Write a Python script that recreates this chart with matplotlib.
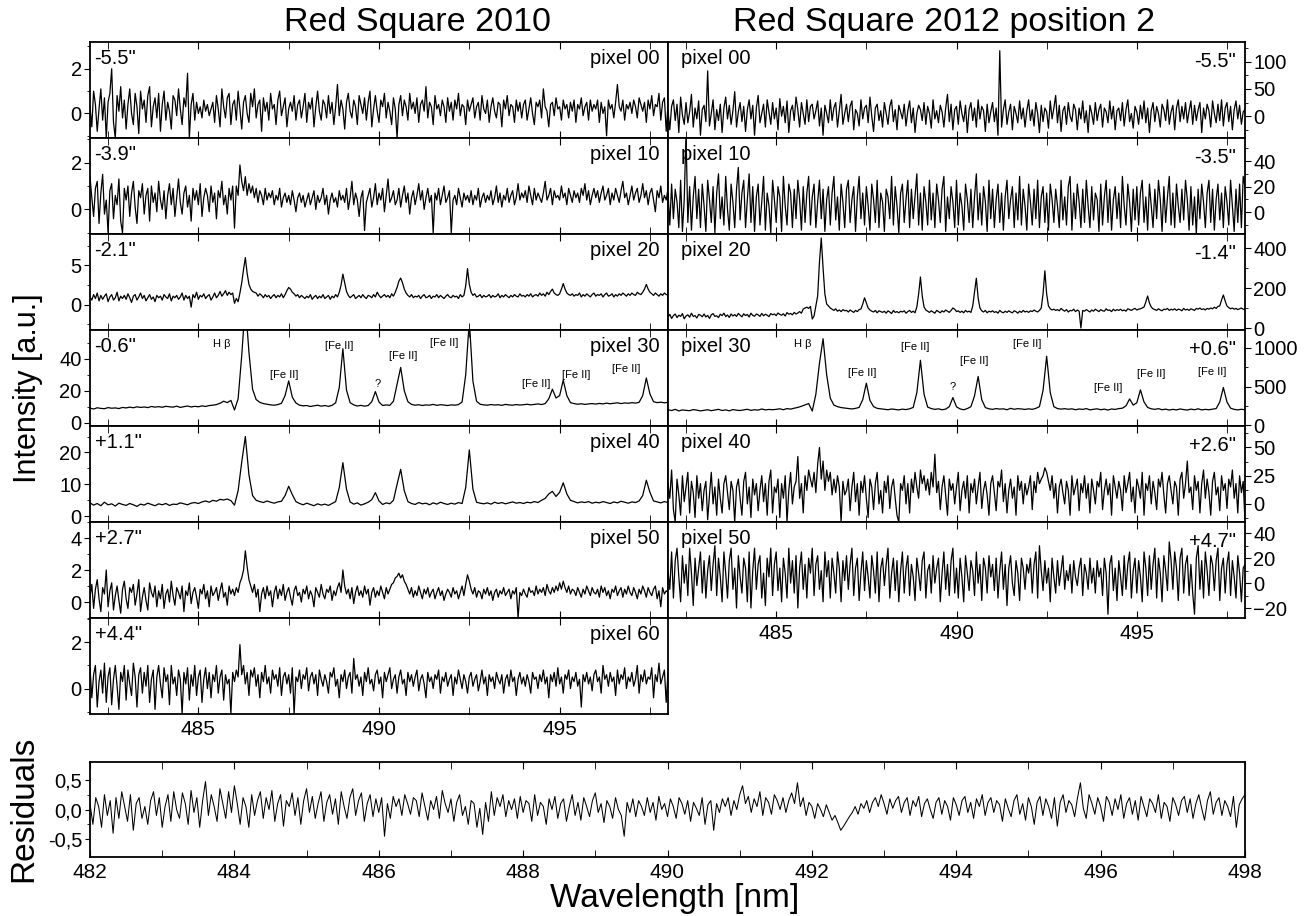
import numpy as np
import matplotlib
matplotlib.use("Agg")
import matplotlib.pyplot as plt
from matplotlib.ticker import MultipleLocator, FixedLocator

plt.rcParams['font.family'] = ['Liberation Sans', 'DejaVu Sans']

# wavelength range of all panels [nm]
wl_min, wl_max = 482.0, 498.0

# ---- left column: Red Square 2010 ----
left_names = ['pixel 00', 'pixel 10', 'pixel 20', 'pixel 30', 'pixel 40', 'pixel 50', 'pixel 60']
left_offsets = ['-5.5"', '-3.9"', '-2.1"', '-0.6"', '+1.1"', '+2.7"', '+4.4"']
left_ylims = [(-1.1, 3.2), (-1.05, 3.05), (-3.2, 9.0), (-2.0, 58.0), (-1.8, 28.3), (-1.0, 5.0), (-1.1, 3.05)]
left_yticks = [(2, 1), (2, 1), (5, 2.5), (20, 10), (10, 5), (2, 1), (2, 1)]

# spectra, evenly spaced from 482 to 498 nm (0.05 or 0.1 nm step)
L00 = """
0.3 -0.6 1.0 0.4 -0.8 0.2 1.1 -0.3 0.7 -1.1
0.5 0.9 2.0 -0.4 -1.1 0.8 0.1 1.2 -0.2 0.6
-0.7 0.4 1.1 0.0 -0.5 0.9 0.3 -0.9 1.0 0.2
0.6 -0.4 0.8 1.2 -0.6 0.3 0.7 -0.2 0.9 -0.8
0.4 1.0 -0.3 0.5 0.1 -0.7 0.8 0.6 -0.1 1.1
0.2 -0.5 0.7 0.3 1.8 -1.1 0.4 0.9 -0.3 0.5
0.0 0.3 -0.2 0.6 0.1 0.4 -0.1 0.2 0.5 -0.4
0.8 0.2 -0.6 1.1 0.3 -0.2 0.7 0.9 -0.5 0.4
0.6 -0.3 1.0 0.2 -0.7 0.5 0.8 0.0 -0.4 0.9
0.3 1.1 -0.2 0.4 0.6 -0.8 0.7 0.1 0.5 -0.3
0.9 0.2 0.4 -0.5 0.6 1.0 -0.1 0.3 0.7 -0.6
0.2 0.5 0.1 0.8 -0.3 0.4 0.6 -0.2 0.3 0.9
-0.4 0.5 0.2 0.7 -0.6 0.3 1.0 0.1 -0.3 0.6
0.4 -0.2 0.8 0.0 0.5 -0.5 0.3 1.3 -0.1 0.6
0.2 -0.7 0.5 0.9 0.1 -0.2 0.6 0.3 -0.5 0.8
0.4 0.0 0.7 -0.3 0.5 1.0 -0.6 0.2 0.8 0.1
-0.4 0.6 0.3 0.9 -0.2 0.5 0.1 -0.5 0.7 0.2
-1.1 0.4 0.8 -0.1 0.6 0.3 -0.3 0.9 0.2 0.5
0.0 0.7 -0.4 0.4 0.6 0.1 1.2 -0.2 0.5 0.3
-0.5 0.8 0.2 0.4 -0.1 0.6 0.3 -0.4 0.7 0.1
0.5 -0.3 0.6 0.2 0.9 -0.1 0.4 0.3 -0.5 0.6
0.1 0.4 0.7 -0.2 0.3 0.5 -0.3 0.8 0.2 0.0
0.6 -0.4 0.3 0.7 0.1 -0.2 0.5 0.4 -0.6 0.6
0.2 0.8 -0.1 0.4 0.3 -0.4 0.6 0.1 0.5 -0.2
0.4 0.6 -0.3 0.2 0.7 0.0 -0.5 0.5 0.3 0.6
-0.2 1.1 0.3 0.1 -0.6 0.4 0.5 -0.1 0.7 0.2
0.3 -0.3 0.6 0.2 0.4 -0.2 0.5 0.1 0.6 -0.4
0.4 0.2 0.7 -0.1 0.3 0.5 -0.3 0.6 0.1 0.4
0.2 0.6 -0.4 0.5 0.0 0.3 -1.0 0.6 0.2 0.4
-0.2 0.5 1.3 0.3 0.1 0.6 -0.3 0.4 0.2 0.5
0.0 0.6 0.3 -0.2 0.7 0.4 0.1 0.5 -0.4 0.6
0.2 0.8 -0.1 0.4 0.3 0.9 -0.3 0.5 0.7 -0.8
0.4
"""
L10 = """
1.4 0.5 -0.3 0.9 1.2 -0.6 0.7 1.5 -0.2 0.4
-1.0 0.8 1.1 -0.4 0.6 0.2 1.3 -0.5 -1.0 0.9
0.4 1.0 -0.3 0.7 1.2 0.1 -0.6 0.8 0.5 1.1
-0.2 0.6 0.9 -0.5 1.0 0.3 0.7 -0.1 1.2 0.4
0.0 0.8 -0.4 0.6 1.1 0.2 0.9 -0.3 0.5 1.3
0.3 -0.2 0.7 1.0 0.1 0.6 -0.5 0.9 0.4 0.8
0.2 1.1 -0.3 0.5 0.9 0.6 -0.1 1.0 0.3 0.7
-0.4 0.8 0.5 1.2 0.2 0.6 -0.2 0.9 0.4 1.0
-0.8 1.0 0.6 1.9 1.2 0.8 1.4 0.6 1.1 0.7
1.0 0.5 0.9 0.3 0.8 0.6 0.2 0.9 0.4 0.7
0.5 0.8 0.2 0.6 0.4 0.9 0.1 0.5 0.7 0.3
0.6 0.2 0.8 0.4 -0.1 0.5 0.7 0.3 0.6 0.1
0.4 0.7 0.2 0.5 0.8 0.0 0.6 0.3 0.5 0.9
0.2 0.6 -0.2 0.4 0.7 0.3 0.5 0.1 0.8 0.4
0.6 0.3 0.9 0.0 0.5 1.2 0.2 0.7 0.4 -0.3
0.5 0.8 -0.9 0.3 0.6 0.9 0.1 0.5 1.1 0.2
0.7 0.4 0.9 -0.1 0.6 1.3 0.3 0.5 0.8 0.2
0.4 0.9 0.1 0.6 1.0 0.3 0.7 -0.2 0.5 0.8
0.2 0.6 1.1 0.4 0.8 0.0 0.5 0.9 0.3 0.6
-1.0 0.7 0.4 0.9 0.2 0.6 1.0 0.3 0.5 0.8
-1.0 0.4 0.6 0.2 0.9 0.5 0.1 0.7 0.4 0.6
0.3 0.8 0.2 0.6 0.4 0.9 0.1 0.5 0.7 0.3
0.6 0.4 0.8 0.2 0.5 1.0 0.3 0.7 0.1 0.6
0.4 0.9 0.3 0.6 0.8 0.2 0.5 1.1 0.4 0.7
0.5 0.8 0.3 1.0 0.6 0.2 0.9 0.4 0.7 0.5
0.3 0.7 1.2 0.4 0.6 0.9 0.2 0.8 0.5 0.6
0.4 1.0 0.5 0.7 0.2 0.9 0.6 0.3 0.8 0.5
0.7 0.3 0.9 0.6 1.1 0.4 0.8 0.2 0.6 0.9
0.5 0.8 0.3 0.7 1.0 0.4 0.6 0.9 0.2 0.7
0.4 0.9 0.6 0.3 0.8 1.2 0.5 0.7 0.2 0.6
1.0 0.4 0.7 0.9 0.3 0.6 1.1 0.5 0.8 0.2
0.7 0.9 0.4 -0.1 0.8 0.5 1.0 0.3 0.6 0.4
0.9
"""
L20 = """
1.0 0.6 1.3 0.8 1.5 0.5 1.2 0.7 1.1 1.4
0.4 1.0 1.3 0.6 0.9 1.6 0.5 1.1 0.8 1.2
0.7 1.4 0.9 0.3 1.1 1.3 0.6 1.0 1.5 0.8
1.2 0.5 0.9 1.3 0.7 1.0 0.4 1.2 0.9 1.1
0.6 1.3 1.0 0.8 1.4 0.5 1.1 0.9 1.2 0.7
1.0 1.5 0.6 1.2 0.8 1.1 -0.3 1.3 0.9 1.6
0.7 1.2 1.0 1.4 0.8 1.1 1.3 0.6 1.0 1.5
0.9 1.2 1.7 1.1 1.4 1.8 1.2 1.6 1.3 1.5
0.2 0.8 0.4 1.5 2.8 4.5 6.0 4.0 2.6 2.0
1.7 1.6 1.5 1.1 1.4 1.2 0.9 1.3 1.0 1.2
0.8 1.1 1.3 0.9 1.2 1.0 1.4 0.9 1.3 1.8
2.2 2.0 1.6 1.4 1.1 1.3 0.9 1.2 1.0 0.8
1.1 0.9 1.3 0.7 1.0 1.2 0.8 1.1 0.9 1.3
0.8 1.0 1.2 0.7 1.1 0.9 1.3 1.0 1.6 2.5
3.9 2.8 1.7 1.2 0.9 1.1 1.3 0.8 1.0 1.2
0.9 1.3 1.0 0.8 1.2 1.1 0.9 1.3 1.0 1.6
1.2 0.9 1.1 1.3 1.0 1.2 0.9 1.4 1.1 1.6
2.2 3.0 3.4 2.8 2.0 1.5 1.2 1.0 1.3 0.9
1.1 1.0 1.2 0.8 1.1 1.3 0.9 1.0 1.2 0.8
1.1 1.0 1.3 0.9 1.2 1.0 0.8 1.1 1.3 1.0
0.9 1.2 1.0 1.1 0.8 1.3 1.0 1.2 2.4 4.6
2.6 1.6 1.2 1.4 1.0 1.1 1.3 0.9 1.2 1.0
1.1 1.3 0.9 1.2 1.0 1.1 1.4 0.9 1.2 1.0
1.3 1.1 0.9 1.2 1.0 1.3 1.1 1.0 1.4 1.1
1.2 1.0 1.3 1.1 1.4 1.0 1.2 1.3 1.1 1.5
1.2 1.4 1.1 1.6 1.3 1.7 2.0 1.5 1.3 1.2
1.4 2.0 2.7 2.0 1.5 1.3 1.2 1.4 1.1 1.3
1.2 1.5 1.0 1.3 1.1 1.4 1.2 1.0 1.3 1.5
1.1 1.3 1.2 1.4 1.0 1.3 1.5 1.1 1.2 1.4
1.0 1.3 1.1 1.4 1.2 1.5 1.3 1.1 1.4 1.2
1.5 1.3 1.2 1.6 1.4 1.3 1.6 2.0 2.6 2.0
1.6 1.4 1.2 1.5 1.3 1.1 1.4 1.2 1.5 1.3
1.3
"""
L30 = """
9.2 8.6 9.4 9.0 8.8 9.5 9.1 9.3 8.9 9.6
9.3 9.8 9.4 10.0 9.6 9.9 9.5 10.2 9.8 10.1
9.7 10.3 10.0 9.8 10.4 9.6 10.1 10.5 9.9 10.3
10.0 10.6 10.2 10.8 11.0 11.4 12.2 13.5 12.6 14.0
8.0 15.0 42.0 75.0 44.0 21.0 14.5 12.8 12.0 11.6
11.2 11.0 11.4 12.2 17.0 26.2 16.0 12.4 11.0 10.6
10.8 10.2 10.6 11.0 10.4 10.8 10.3 10.9 12.5 22.0
46.3 20.5 12.6 11.2 10.5 10.9 10.4 10.8 13.2 19.5
13.0 10.8 11.2 10.9 13.5 24.0 34.6 20.0 13.2 11.5
11.0 11.3 10.8 11.2 11.0 11.5 10.9 11.3 11.1 10.8
11.2 11.0 11.4 13.0 30.0 64.0 26.0 13.5 11.6 11.2
11.0 11.4 11.1 11.3 10.9 11.5 11.2 11.0 11.4 11.1
11.3 11.6 11.2 11.5 11.8 11.4 12.0 15.0 21.0 15.5
17.0 26.6 17.0 12.6 12.0 11.6 11.9 11.5 11.8 12.0
11.7 12.1 11.8 12.3 11.9 12.2 12.5 12.0 12.4 12.2
12.6 12.3 12.8 17.0 28.0 18.0 13.2 12.6 12.9 12.5
12.8
"""
L40 = """
4.2 3.5 4.0 3.3 4.4 3.6 3.9 3.2 4.1 3.7
3.4 4.0 3.6 3.1 3.8 3.5 4.1 3.7 3.3 3.9
3.6 4.0 3.4 3.8 3.7 4.2 3.9 3.6 4.1 4.3
4.0 4.5 4.8 4.4 5.0 4.7 5.3 5.1 5.4 4.9
3.5 8.0 17.0 25.0 13.0 6.5 5.0 4.6 4.3 4.8
4.4 4.1 4.5 4.7 6.5 9.4 6.8 4.6 4.0 3.6
4.1 3.7 3.3 3.9 3.5 3.8 3.4 4.0 4.6 9.0
16.8 8.5 4.5 3.8 4.2 3.5 3.9 4.4 5.2 7.4
4.8 3.7 4.2 3.9 5.0 10.0 14.7 8.0 4.6 4.0
3.7 4.3 3.9 4.1 3.6 4.2 3.8 4.4 4.0 3.7
4.1 3.8 4.3 4.0 9.0 20.8 8.5 4.4 4.1 3.9
4.2 3.8 4.4 4.0 4.3 3.9 4.2 4.5 4.1 4.3
4.0 4.4 4.2 4.6 4.3 5.0 5.6 7.0 7.8 6.2
7.5 10.5 7.0 5.0 4.6 4.2 4.5 4.3 4.6 4.1
4.4 4.2 4.6 4.3 4.0 4.5 4.2 4.7 4.4 4.1
4.5 4.3 4.8 6.5 11.3 7.5 4.8 4.5 4.2 4.6
4.3
"""
L50 = """
0.3 1.1 -0.4 0.8 1.4 0.2 -0.6 0.9 0.5 2.0
-0.3 0.7 1.2 -0.5 0.4 1.0 0.1 -0.7 0.8 1.3
0.2 -0.4 0.9 0.6 1.1 -0.2 0.5 1.4 -0.6 0.3
0.9 0.1 -0.5 1.2 0.6 0.3 1.0 -0.3 0.7 0.2
1.1 -0.4 0.5 0.8 0.0 1.3 0.4 -0.2 0.9 0.6
0.2 1.0 -0.6 0.7 0.4 1.2 -0.1 0.6 0.9 0.3
-0.4 0.8 0.5 1.1 0.2 0.7 -0.3 1.0 0.4 0.6
0.9 0.1 0.7 1.2 0.3 0.6 -0.2 1.0 0.5 0.8
0.4 0.9 0.6 1.2 1.5 2.0 3.2 2.2 1.4 1.0
0.6 1.1 0.3 0.8 -0.6 0.5 0.9 0.2 1.0 0.4
0.7 -0.3 0.6 1.0 0.2 0.8 0.4 1.1 0.1 0.6
0.9 0.3 -0.2 0.7 1.0 0.4 0.6 0.0 0.8 0.5
1.0 0.2 0.7 0.4 -0.3 0.9 0.6 0.3 1.1 0.5
0.2 0.8 0.6 1.0 0.1 0.7 0.4 0.9 1.2 0.6
2.0 1.0 0.5 0.8 0.2 0.9 -0.1 0.6 1.0 0.4
0.7 0.3 1.0 0.5 0.8 -0.2 0.6 0.9 0.3 0.7
0.4 1.0 0.6 0.2 0.9 0.5 0.8 1.1 1.2 1.5
1.6 1.8 1.5 1.7 1.3 1.1 0.8 0.5 0.9 0.3
0.7 0.4 1.0 0.6 0.2 0.8 0.5 0.9 0.3 0.6
0.8 0.2 0.6 0.9 0.4 0.7 0.1 0.5 0.8 0.6
0.3 0.9 0.5 0.7 0.2 0.6 1.0 0.4 1.1 1.7
1.3 0.8 0.5 0.9 0.3 0.7 0.6 0.2 0.8 0.5
0.9 0.4 0.7 0.1 0.6 0.8 0.3 0.7 0.5 0.9
0.4 0.6 0.8 0.2 0.7 0.5 0.9 -1.0 0.6 0.4
0.8 0.5 0.3 0.9 0.6 0.7 0.4 1.0 0.5 0.8
0.6 0.9 0.4 1.1 0.7 0.5 0.9 0.6 1.0 0.7
1.2 0.8 1.3 0.9 0.6 1.0 0.5 0.8 0.7 0.4
0.9 0.6 0.3 0.8 0.5 1.0 0.7 0.4 0.9 0.6
0.5 0.8 0.3 1.0 0.6 0.9 0.4 0.7 0.2 0.8
0.6 1.0 0.4 0.7 0.9 0.3 0.8 0.5 1.0 0.6
0.4 0.9 0.6 0.2 0.8 0.5 1.0 0.7 0.3 0.9
0.6 0.4 0.8 1.0 0.2 0.7 -0.3 0.9 0.5 0.7
0.6
"""
L60 = """
0.9 -0.4 0.6 1.0 -0.8 0.3 0.8 -0.2 1.1 -0.6
0.5 0.9 -0.7 0.4 1.0 0.1 -0.9 0.7 0.3 1.0
-0.5 0.8 0.2 -0.3 1.1 0.5 -0.8 0.6 0.9 -0.2
0.7 0.1 1.0 -0.6 0.4 0.8 -0.9 0.5 1.0 0.2
-0.4 0.9 0.3 0.6 -0.7 1.0 0.2 0.5 -0.3 0.8
0.4 -1.1 0.7 0.2 0.9 -0.5 0.6 0.1 1.0 -0.3
0.5 0.8 -0.6 0.4 0.9 0.0 0.7 -0.4 0.6 0.3
1.0 -0.2 0.5 0.8 -0.5 0.6 0.2 0.4 -1.1 0.7
0.3 0.8 0.5 1.9 0.6 1.0 0.2 0.7 -0.3 0.8
0.5 0.9 0.1 0.6 -0.4 0.7 0.3 1.0 0.2 0.5
-0.2 0.8 0.4 0.6 0.1 0.9 -0.3 0.5 0.7 0.2
0.6 -0.2 0.9 -1.1 0.5 0.3 0.8 0.0 0.6 0.4
0.9 -0.1 0.5 0.7 0.2 0.6 -0.3 0.8 0.4 0.1
0.6 0.3 -0.2 0.7 0.5 0.9 0.1 0.4 -0.4 0.6
0.3 0.8 0.0 0.5 0.7 -0.2 1.3 0.4 0.6 0.1
0.5 -0.3 0.7 0.3 0.9 0.2 0.4 -0.1 0.6 0.8
0.2 0.5 -0.4 0.7 0.3 0.6 0.9 0.0 0.4 0.6
-0.2 0.5 0.8 0.2 0.4 -0.3 0.7 0.3 0.6 0.1
0.5 0.8 -0.1 0.4 0.6 0.2 -0.4 0.7 0.3 0.5
0.0 0.6 0.4 0.8 -0.2 0.5 0.3 0.7 0.1 0.4
0.6 -0.3 0.5 0.2 0.8 0.4 0.0 0.6 0.3 -0.2
0.5 0.7 0.1 0.4 0.6 -0.1 0.3 0.8 0.2 0.5
-0.3 0.6 0.3 0.5 0.0 0.7 0.4 0.2 0.6 -0.2
0.4 0.6 0.1 0.8 0.3 0.5 -0.3 0.4 0.7 0.2
0.5 0.1 0.6 0.3 -0.2 0.7 0.4 0.5 0.0 0.6
0.3 0.8 0.2 0.5 -0.4 0.6 0.3 0.7 0.1 0.9
0.2 0.5 -0.2 0.6 0.4 0.8 0.0 0.5 0.3 0.7
0.1 0.4 -0.8 0.6 0.3 0.7 0.2 0.5 -0.1 0.6
0.8 0.3 0.5 -0.2 1.0 0.4 0.6 0.1 0.7 0.3
0.5 -0.3 0.8 0.2 0.6 0.4 0.9 0.0 0.5 0.3
0.7 0.1 0.4 1.0 -0.2 0.6 0.3 0.8 0.2 0.5
0.4 0.9 -0.4 0.6 0.3 1.1 0.2 0.5 0.8 -0.6
0.7
"""

# ---- right column: Red Square 2012 position 2 ----
right_names = ['pixel 00', 'pixel 10', 'pixel 20', 'pixel 30', 'pixel 40', 'pixel 50']
right_offsets = ['-5.5"', '-3.5"', '-1.4"', '+0.6"', '+2.6"', '+4.7"']
right_ylims = [(-40, 136), (-17, 58), (-10, 470), (-10, 1230), (-16, 69), (-28, 49)]
right_yticks = [(50, 25), (20, 10), (200, 100), (500, 250), (25, 12.5), (20, 10)]

R00 = """
10 -25 18 30 -8 22 -30 35 2 -15
25 -12 8 40 -20 15 -5 28 -35 12
20 -10 83 -18 5 30 -25 12 -8 22
-30 15 35 -5 20 -15 10 45 -20 8
25 -10 18 -28 12 30 -5 20 -35 15
38 -12 5 22 -20 30 8 -15 25 -5
15 -25 32 0 18 -12 28 -30 10 20
-8 35 12 -20 25 5 -15 30 -10 18
22 -5 10 28 -18 15 -35 20 5 -12
30 -8 15 25 -20 10 40 -15 5 22
-10 18 28 -25 12 5 -18 30 -5 15
20 -12 35 0 -28 15 22 -8 10 -20
25 5 -15 18 30 -10 12 -25 20 8
-5 22 -18 10 28 -12 15 -30 5 20
12 -8 25 -15 18 5 -22 30 -5 10
-12 20 8 -20 15 40 -10 22 -25 12
18 -15 28 5 -10 20 -30 12 25 -8
15 -20 30 -5 18 10 -28 22 -12 8
25 -10 15 -35 120 -20 12 30 -15 8
22 -25 18 5 -12 28 -5 15 -20 10
30 -8 12 -18 25 5 -30 20 -10 15
8 -22 28 -5 15 38 -12 20 -28 10
18 -15 25 0 -10 22 12 -25 15 -5
28 -12 10 -30 20 5 -15 25 -8 12
22 -20 15 8 -12 28 -5 18 -25 10
15 -8 25 -18 12 30 -10 5 -22 18
8 -15 20 -5 28 -12 15 -30 10 25
-10 18 5 -20 22 12 -8 30 -15 8
20 -25 15 30 -10 18 -5 25 -12 10
28 -15 20 -8 12 25 -30 15 -5 22
10 -20 28 5 -12 22 -8 30 -18 15
25 -10 18 -25 12 28 -5 20 -15 8
12
"""
R10 = """
15 -10 22 -5 18 8 -12 25 -15 10
62 -8 20 -14 12 28 -5 18 -12 22
5 -15 25 10 -8 20 -16 15 30 -5
12 -10 28 2 -14 22 8 -12 18 35
-6 15 25 -12 10 30 -8 20 -15 12
22 -10 8 28 -14 15 5 -16 25 10
-8 20 12 -15 28 5 -10 22 15 -12
18 -5 25 10 -14 20 -8 15 28 -10
12 22 -12 8 25 -5 18 -15 10 20
-10 15 28 -6 12 -14 22 8 -12 18
25 -8 10 20 -15 12 28 -5 15 -10
20 5 -14 22 10 -8 25 -12 15 8
-15 18 12 -5 28 -10 20 5 -16 15
22 -8 10 25 -12 18 -5 12 30 -10
15 -14 20 8 -10 25 -6 15 -12 22
10 -8 18 28 -15 12 -5 20 8 -12
25 -10 15 5 -14 22 10 -8 18 -12
12 30 -6 15 -10 20 8 -15 25 -5
18 -12 10 22 -8 15 -14 12 25 -5
10 20 -12 15 -6 28 -10 18 5 -14
22 8 -10 18 -5 25 -12 12 20 -8
15 -14 22 10 -8 18 5 -12 25 -6
12 -10 20 28 -14 15 -5 22 8 -12
18 -8 25 5 -12 20 -6 15 10 -15
22 -10 12 25 -8 18 -14 10 20 -5
15 -12 28 5 -10 22 8 -15 18 -6
20 -10 15 25 -8 12 -14 22 5 -12
18 -5 25 10 -15 20 -8 12 28 -10
15 -12 22 5 -8 18 -6 25 10 -14
20 -10 12 -17 18 -5 22 8 -12 15
25 -8 18 -14 10 22 -6 15 -12 20
8 -10 25 5 -15 18 -8 22 -12 28
20
"""
R20 = """
55 68 48 62 70 52 64 58 72 46
60 66 54 74 58 62 50 68 64 56
70 55 63 48 66 72 58 61 52 69
62 74 57 65 53 70 60 67 58 73
64 56 71 62 68 55 74 63 59 70
66 58 73 61 69 64 57 72 66 70
62 75 68 64 71 60 77 69 73 66
78 70 75 82 74 95 100 104 98 108
45 60 110 160 330 450 300 170 120 110
100 94 88 96 84 90 82 92 86 88
80 90 84 78 88 82 92 95 120 151
125 100 90 84 80 88 76 86 82 78
84 74 86 80 72 88 78 82 76 84
80 86 74 82 88 78 84 76 105 170
255 160 105 90 84 78 86 80 74 88
82 76 86 80 90 84 78 88 100 94
82 86 78 84 76 88 80 84 78 110
180 249 150 100 86 80 88 76 84 80
86 78 82 74 88 80 76 84 78 86
80 76 86 82 74 84 78 88 80 84
78 86 82 90 84 80 88 100 170 286
170 110 96 90 94 88 92 86 98 90
84 92 80 88 86 94 82 90 84 0
88 84 92 86 80 90 84 94 88 82
92 86 84 96 88 90 82 94 86 92
88 94 86 90 84 96 92 88 94 98
90 94 96 100 105 130 160 125 105 96
92 88 96 90 86 94 92 98 88 94
90 96 88 94 92 86 98 90 94 88
96 92 88 98 94 100 92 96 90 98
94 100 96 104 98 108 110 140 165 135
110 102 96 100 94 98 92 96 100 94
92
"""
R30 = """
200 190 205 185 198 192 188 202 195 185
192 200 188 196 205 190 198 186 202 194
190 198 206 192 200 195 210 198 204 200
205 212 200 215 208 220 230 245 262 280
183 400 800 1117 650 350 260 240 228 222
215 210 218 230 330 543 320 240 218 212
206 200 210 204 198 208 202 212 230 420
839 400 235 215 205 212 200 208 240 357
238 210 200 215 240 380 630 330 228 212
205 215 208 212 200 218 206 214 210 204
212 205 218 240 450 891 420 240 215 208
214 206 212 200 210 204 215 198 206 212
200 208 196 210 204 215 220 250 339 260
290 457 300 230 212 205 214 200 208 196
205 198 210 202 196 208 200 212 198 205
200 208 215 300 487 300 220 205 198 206
200
"""
R40 = """
18 5 30 -5 -16 22 8 -10 25 2
15 28 -8 20 10 -12 25 5 18 -6
12 20 -14 8 28 0 15 -10 22 5
-8 18 25 10 -5 20 12 -16 15 22
5 -10 20 28 0 15 -12 22 8 18
-6 12 25 2 18 -10 20 30 -8 15
10 22 -12 18 5 25 -16 12 28 0
15 20 42 5 18 -8 25 12 30 22
15 28 10 35 50 22 38 12 30 20
28 8 22 10 25 15 -16 20 8 12
22 -6 15 28 2 18 -10 20 10 25
5 -12 22 15 -5 18 28 0 12 -8
20 10 25 -4 15 22 5 -10 -16 18
12 25 0 18 -8 22 10 28 15 5
30 18 25 12 22 8 28 15 44 10
20 -5 15 25 8 -10 22 12 18 0
15 28 -6 12 20 5 25 -8 18 10
22 0 15 28 -4 12 20 8 -10 18
25 10 -6 20 15 30 2 18 -8 12
22 5 15 -10 25 12 20 0 18 8
15 25 -5 20 10 28 18 22 25 32
28 20 12 25 5 18 -8 15 22 10
0 20 12 -10 25 8 15 22 -6 18
10 25 5 18 -8 22 12 0 20 15
28 -5 12 22 8 18 -10 25 15 5
20 12 -6 25 10 18 28 2 15 -8
22 15 5 28 -10 18 12 25 0 20
10 -5 22 15 28 8 -8 18 25 12
0 20 15 -10 22 28 5 18 38 10
15 -5 25 12 20 -8 18 30 5 22
10 -10 20 28 8 15 -6 25 12 18
-4 22 15 30 5 18 -8 25 10 20
-16
"""
R50 = """
10 -5 25 -12 18 28 5 -15 22 0
15 -10 28 8 -18 20 -2 12 25 -8
18 -12 10 22 -6 15 30 -10 20 5
-15 25 8 -12 18 28 -5 12 -20 22
5 -8 20 12 -15 25 -20 10 28 -5
15 22 -12 8 -18 20 5 28 -10 15
25 -6 12 -15 20 8 -12 28 0 18
-8 22 -20 12 25 -5 15 -12 20 8
28 -10 15 22 -5 10 -15 25 5 18
-12 20 8 -8 25 12 -15 18 2 22
-5 15 28 -10 12 20 -14 8 25 -6
18 5 -12 22 10 -8 25 -15 12 20
-2 15 28 -12 8 20 -6 18 -15 10
25 -8 12 22 -10 15 5 -14 20 8
-6 18 25 -12 10 15 -8 22 0 12
20 -15 8 25 -5 15 -10 18 28 -8
12 -12 20 5 -15 22 8 -6 18 10
-10 25 0 15 -14 20 12 -8 22 5
15 -6 20 -12 10 25 -5 15 -18 12
22 0 -10 18 8 -14 20 12 -5 15
8 20 -8 15 25 -12 30 10 -6 18
0 12 -15 20 5 -8 18 -2 10 22
-5 10 2 15 -8 18 5 -2 12 20
-10 15 8 -5 20 0 12 -8 18 5
12 -10 20 8 -25 15 22 -6 12 -14
18 5 -10 22 -5 15 25 -12 10 20
-8 18 5 -15 25 12 -10 22 -5 15
28 -12 20 8 -15 22 10 -6 33 18
-5 25 12 -14 20 28 -8 15 22 -10
15 -8 -25 20 30 -5 18 -12 25 10
-10 22 15 -6 18 28 -14 12 20 -8
15 25 -10 18 5 -12 22 8 -15 12
15
"""

# ---- residuals of the fit (0.04 nm step) ----
RES = """
0.10 -0.25 0.20 0.05 -0.30 0.25 -0.10 0.15 -0.40 0.20
-0.15 0.30 0.05 -0.20 0.25 -0.35 0.10 0.20 -0.15 0.05
-0.25 0.15 0.30 -0.10 0.20 -0.30 0.05 0.25 -0.20 0.30
0.00 -0.15 0.28 0.10 -0.25 0.32 -0.05 0.20 -0.30 0.15
0.47 -0.10 0.25 0.05 -0.20 0.35 0.10 -0.15 0.30 -0.05
0.40 0.10 -0.25 0.20 0.05 -0.30 0.25 -0.10 0.15 0.30
-0.15 0.20 0.00 0.32 -0.20 0.10 0.25 -0.28 0.15 0.05
0.28 -0.10 0.20 -0.25 0.15 0.35 -0.05 0.22 -0.15 0.10
0.30 -0.20 0.12 0.25 -0.08 0.18 -0.25 0.30 0.05 -0.15
0.20 0.35 -0.10 0.15 0.28 -0.20 0.10 0.25 -0.12 0.18
-0.05 0.20 -0.45 0.10 -0.15 0.22 0.05 0.18 -0.10 0.25
0.10 -0.08 0.20 0.15 -0.12 0.28 0.05 -0.18 0.15 0.00
0.22 -0.15 0.32 0.10 -0.05 0.18 -0.20 0.12 0.25 -0.10
0.05 -0.25 0.15 0.10 -0.30 0.02 -0.42 0.12 -0.20 0.30
-0.10 0.20 0.05 0.25 -0.12 0.15 0.00 0.18 -0.15 0.22
-0.05 0.15 0.10 -0.20 0.25 -0.10 0.12 0.05 -0.25 0.18
0.00 0.22 -0.15 0.10 0.18 -0.20 0.05 0.25 -0.10 0.12
-0.18 0.20 0.05 -0.12 0.15 0.28 -0.05 0.10 -0.22 0.15
0.05 -0.15 0.20 0.00 -0.10 -0.45 0.12 -0.05 0.18 -0.12
0.15 0.05 -0.10 0.20 -0.05 0.12 -0.18 0.22 0.00 0.10
-0.12 0.18 0.05 -0.15 0.20 0.10 -0.08 0.15 -0.20 0.12
0.02 -0.10 0.20 -0.25 0.08 0.15 -0.35 0.10 -0.05 0.18
0.05 0.20 -0.10 0.15 0.00 0.25 0.40 0.10 0.22 -0.05
0.18 0.05 0.30 -0.10 0.20 0.12 -0.08 0.25 0.15 0.00
0.20 -0.05 0.15 0.28 0.10 0.45 0.05 0.20 -0.10 0.12
0.05 -0.15 0.10 0.00 -0.12 0.08 -0.05 -0.18 -0.10 -0.22
-0.35 -0.28 -0.20 -0.12 -0.05 0.05 -0.08 0.10 0.02 0.15
-0.05 0.12 0.20 0.05 0.25 0.10 -0.08 0.18 0.02 0.15
0.22 -0.05 0.12 0.20 -0.10 0.15 0.05 0.22 -0.12 0.10
0.18 0.00 -0.15 0.12 0.20 -0.08 0.15 0.05 -0.18 0.20
0.08 -0.10 0.15 0.22 -0.05 0.12 -0.15 0.18 0.05 0.25
-0.10 0.12 0.20 -0.05 0.15 0.08 -0.20 0.18 0.02 -0.12
0.15 0.25 -0.08 0.10 -0.18 0.20 0.05 -0.25 0.12 0.22
-0.10 0.18 0.05 -0.15 0.20 -0.28 0.12 0.25 -0.05 0.15
0.08 -0.12 0.20 0.45 0.02 -0.15 0.25 0.10 -0.08 0.20
0.05 -0.20 0.22 0.12 -0.10 0.18 0.00 0.25 -0.15 0.10
0.20 -0.08 0.15 -0.18 0.22 0.05 -0.12 0.18 0.10 -0.05
0.25 -0.15 0.12 0.05 -0.20 0.20 0.08 -0.10 0.15 0.22
-0.05 0.18 -0.15 0.10 0.25 0.02 -0.18 0.15 0.30 -0.08
0.12 0.20 -0.10 0.15 0.05 -0.12 0.22 -0.30 0.08 0.18
0.25
"""

# line identifications in the pixel 30 panels: label, (x, y) left, (x, y) right
line_ids = ['H β', '[Fe II]', '[Fe II]', '?', '[Fe II]', '[Fe II]', '[Fe II]', '[Fe II]', '[Fe II]']
line_pos_left = [(485.66, 49), (487.38, 30), (488.9, 48), (489.96, 24), (490.68, 42),
                 (491.8, 50), (494.34, 24.5), (495.46, 30), (496.85, 33.5)]
line_pos_right = [(485.73, 1043), (487.38, 674), (488.85, 1013), (489.9, 500), (490.48, 826),
                  (491.95, 1043), (494.2, 487), (495.4, 665), (497.1, 687)]


def parse(s):
    return np.array(s.split(), dtype=float)


left_specs = [parse(s) for s in (L00, L10, L20, L30, L40, L50, L60)]
right_specs = [parse(s) for s in (R00, R10, R20, R30, R40, R50)]
residuals = parse(RES)

W, H = 1305, 916
fig = plt.figure(figsize=(W / 100, H / 100), dpi=100)


def px_axes(x0, y0, x1, y1):
    return fig.add_axes([x0 / W, 1 - y1 / H, (x1 - x0) / W, (y1 - y0) / H])


def style(ax, ylim, ytk, side, bottom_labels):
    ax.set_xlim(wl_min, wl_max)
    ax.set_ylim(*ylim)
    ax.xaxis.set_major_locator(MultipleLocator(5))
    ax.xaxis.set_minor_locator(MultipleLocator(2.5))
    ax.tick_params(axis='x', which='both', direction='in', top=True, bottom=True,
                   labelbottom=bottom_labels, labelsize=15, pad=4, length=5)
    ax.yaxis.set_major_locator(MultipleLocator(ytk[0]))
    ax.yaxis.set_minor_locator(MultipleLocator(ytk[1]))
    if side == 'right':
        ax.yaxis.tick_right()
    ax.tick_params(axis='y', which='both', direction='out', labelsize=14.5, pad=2)
    ax.tick_params(axis='y', which='major', length=4)
    ax.tick_params(axis='y', which='minor', length=2.5)
    for sp in ax.spines.values():
        sp.set_linewidth(1.3)


top, row_h = 42, 96.0
for k, spec in enumerate(left_specs):
    ax = px_axes(90, top + k * row_h, 668, top + (k + 1) * row_h)
    wl = np.linspace(wl_min, wl_max, len(spec))
    ax.plot(wl, spec, color='black', lw=0.9)
    style(ax, left_ylims[k], left_yticks[k], 'left', k == len(left_specs) - 1)
    ax.text(0.008, 0.93, left_offsets[k], transform=ax.transAxes, ha='left', va='top', fontsize=14.5)
    ax.text(0.985, 0.93, left_names[k], transform=ax.transAxes, ha='right', va='top', fontsize=14.5)
    if left_names[k] == 'pixel 30':
        for lab, (x, y) in zip(line_ids, line_pos_left):
            ax.text(x, y, lab, ha='center', va='center', fontsize=8)

for k, spec in enumerate(right_specs):
    ax = px_axes(668, top + k * row_h, 1245, top + (k + 1) * row_h)
    wl = np.linspace(wl_min, wl_max, len(spec))
    ax.plot(wl, spec, color='black', lw=0.9)
    style(ax, right_ylims[k], right_yticks[k], 'right', k == len(right_specs) - 1)
    ax.text(0.022, 0.93, right_names[k], transform=ax.transAxes, ha='left', va='top', fontsize=14.5)
    ax.text(0.985, 0.90, right_offsets[k], transform=ax.transAxes, ha='right', va='top', fontsize=14.5)
    if right_names[k] == 'pixel 30':
        for lab, (x, y) in zip(line_ids, line_pos_right):
            ax.text(x, y, lab, ha='center', va='center', fontsize=8)

# residuals panel
axr = px_axes(90, 762, 1245, 857)
wl_r = np.linspace(wl_min, wl_max, len(residuals))
axr.plot(wl_r, residuals, color='black', lw=0.75)
axr.set_xlim(wl_min, wl_max)
axr.set_ylim(-0.8, 0.8)
axr.xaxis.set_major_locator(MultipleLocator(2))
axr.xaxis.set_minor_locator(MultipleLocator(1))
axr.tick_params(axis='x', which='both', direction='in', top=True, labelsize=15, pad=4, length=5)
axr.yaxis.set_major_locator(FixedLocator([-0.5, 0.0, 0.5]))
axr.yaxis.set_minor_locator(FixedLocator([-0.25, 0.25]))
axr.set_yticklabels(['-0,5', '0,0', '0,5'])
axr.tick_params(axis='y', which='both', direction='out', labelsize=14.5, pad=2)
axr.tick_params(axis='y', which='minor', length=2.5)
for sp in axr.spines.values():
    sp.set_linewidth(1.3)

fig.text(417 / W, 1 - 22 / H, 'Red Square 2010', ha='center', va='center', fontsize=24.5)
fig.text(944 / W, 1 - 22 / H, 'Red Square 2012 position 2', ha='center', va='center', fontsize=24.5)
fig.text(28 / W, 1 - 388 / H, 'Intensity [a.u.]', rotation=90, ha='center', va='center', fontsize=22)
fig.text(24 / W, 1 - 809 / H, 'Residuals', rotation=90, ha='center', va='center', fontsize=24)
fig.text(675 / W, 1 - 898 / H, 'Wavelength [nm]', ha='center', va='center', fontsize=24)

fig.savefig('out.png', dpi=100)
